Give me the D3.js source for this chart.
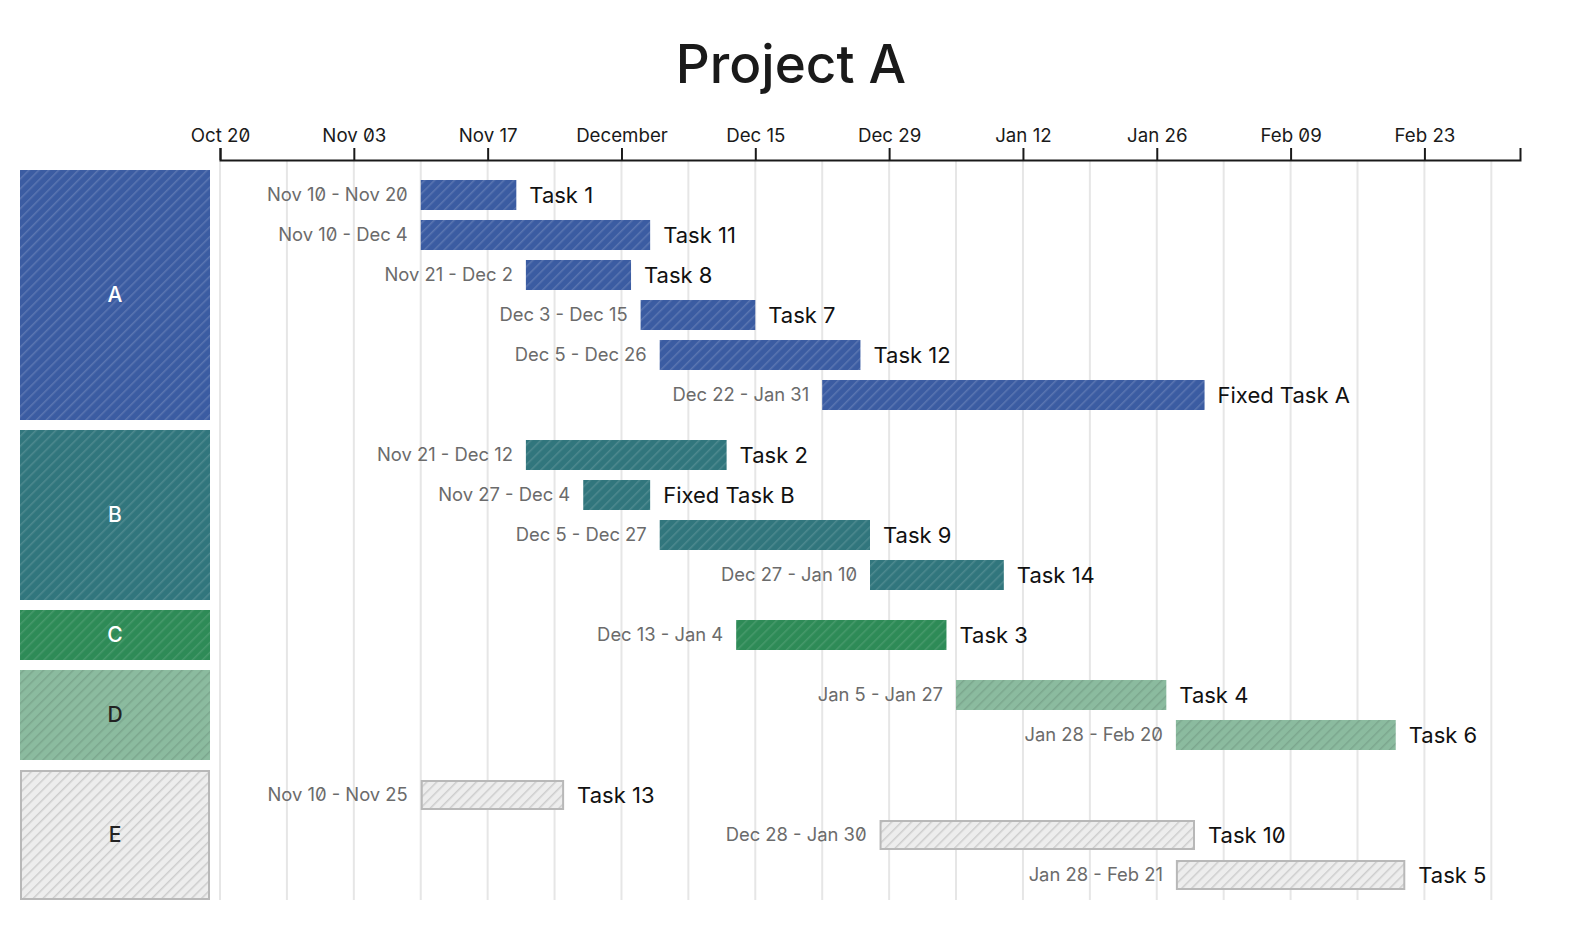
<!DOCTYPE html>
<html>
<head>
<meta charset="utf-8">
<script src="https://cdn.jsdelivr.net/npm/d3@7"></script>
<style>
  body { margin: 0; background: #fff; }
  svg { font-family: Inter, "Noto Sans", sans-serif; font-variant-numeric: slashed-zero; font-feature-settings: "zero" 1; }
</style>
</head>
<body>
<div class="gantt"></div>
<script>
const title = 'Project A'
const groups = ['A', 'B', 'C', 'D', 'E']
const taskNames = ['Task 1', 'Task 11', 'Task 8', 'Task 7', 'Task 12', 'Fixed Task A',
  'Task 2', 'Fixed Task B', 'Task 9', 'Task 14',
  'Task 3',
  'Task 4', 'Task 6',
  'Task 13', 'Task 10', 'Task 5']
const taskGroups = ['A', 'A', 'A', 'A', 'A', 'A', 'B', 'B', 'B', 'B', 'C', 'D', 'D', 'E', 'E', 'E']
const taskStarts = ['2024-11-10', '2024-11-10', '2024-11-21', '2024-12-03', '2024-12-05', '2024-12-22',
  '2024-11-21', '2024-11-27', '2024-12-05', '2024-12-27',
  '2024-12-13',
  '2025-01-05', '2025-01-28',
  '2024-11-10', '2024-12-28', '2025-01-28']
const taskEnds = ['2024-11-20', '2024-12-04', '2024-12-02', '2024-12-15', '2024-12-26', '2025-01-31',
  '2024-12-12', '2024-12-04', '2024-12-27', '2025-01-10',
  '2025-01-04',
  '2025-01-27', '2025-02-20',
  '2024-11-25', '2025-01-30', '2025-02-21']
const timeDomain = ['2024-10-20', '2025-03-05']

const groupFill = { A: '#3b5ca2', B: '#31767d', C: '#2e8b57', D: '#8bbb9f', E: '#ededed' }
const groupHatch = { A: 'rgba(255,255,255,0.16)', B: 'rgba(255,255,255,0.14)', C: 'rgba(255,255,255,0.12)', D: 'rgba(0,0,0,0.11)', E: '#cdcdcd' }
const groupText = { A: '#fff', B: '#fff', C: '#fff', D: '#222', E: '#222' }

const width = 1580
const height = 930
const parse = d3.utcParse('%Y-%m-%d')
const toLocal = s => { const d = parse(s); return new Date(d.getUTCFullYear(), d.getUTCMonth(), d.getUTCDate()) }

// rows, with half a slot between groups
const tasks = taskNames.map((name, i) => ({
  name,
  group: taskGroups[i],
  start: toLocal(taskStarts[i]),
  end: toLocal(taskEnds[i]),
}))
let slot = 0
groups.forEach(g => {
  tasks.filter(t => t.group === g).forEach(t => {
    t.slot = slot
    slot++
  })
  slot += 0.5
})
const lastSlot = d3.max(tasks, t => t.slot)

const x = d3.scaleTime()
  .domain(timeDomain.map(toLocal))
  .range([220, 1520])
const y = d3.scaleLinear()
  .domain([0, lastSlot])
  .range([195, 875])
const step = y(1) - y(0)
const barH = 30

const svg = d3.select('.gantt')
  .append('svg')
  .attr('width', width)
  .attr('height', height)

const defs = svg.append('defs')
groups.forEach(g => {
  const p = defs.append('pattern')
    .attr('id', `hatch-${g}`)
    .attr('patternUnits', 'userSpaceOnUse')
    .attr('width', 7)
    .attr('height', 7)
    .attr('patternTransform', 'rotate(45)')
  p.append('rect').attr('width', 7).attr('height', 7).attr('fill', groupFill[g])
  p.append('line')
    .attr('x1', 0.75).attr('y1', 0).attr('x2', 0.75).attr('y2', 7)
    .attr('stroke', groupHatch[g])
    .attr('stroke-width', 1.5)
})

svg.append('text')
  .attr('x', 791)
  .attr('y', 83)
  .attr('text-anchor', 'middle')
  .attr('font-size', 53)
  .attr('font-weight', 500)
  .attr('fill', '#1a1a1a')
  .text(title)

// weekly grid
const weeks = d3.timeWeek.range(x.domain()[0], x.domain()[1])
svg.append('g')
  .selectAll('line')
  .data(weeks)
  .join('line')
  .attr('x1', d => x(d))
  .attr('x2', d => x(d))
  .attr('y1', 160)
  .attr('y2', 900)
  .attr('stroke', '#e6e6e6')
  .attr('stroke-width', 2)

const axis = d3.axisTop(x)
  .tickValues(d3.timeWeek.range(x.domain()[0], x.domain()[1], 2))
  .tickSize(12)
  .tickSizeOuter(12)
  .tickPadding(6)

const ax = svg.append('g')
  .attr('transform', 'translate(0,160)')
  .call(axis)
ax.select('.domain').attr('stroke', '#1a1a1a').attr('stroke-width', 2)
ax.selectAll('.tick line').attr('stroke', '#1a1a1a').attr('stroke-width', 2)
ax.selectAll('.tick text')
  .attr('font-family', 'Inter, sans-serif')
  .attr('font-size', 18.7)
  .attr('fill', '#1a1a1a')

// group boxes
const groupBoxes = groups.map(g => {
  const rows = tasks.filter(t => t.group === g)
  return {
    g,
    y0: y(d3.min(rows, r => r.slot)) - step / 2 - 5,
    y1: y(d3.max(rows, r => r.slot)) + step / 2 + 5,
  }
})
const box = svg.append('g')
  .selectAll('g')
  .data(groupBoxes)
  .join('g')
box.append('rect')
  .attr('x', d => (d.g === 'E' ? 21 : 20))
  .attr('y', d => (d.g === 'E' ? d.y0 + 1 : d.y0))
  .attr('width', d => (d.g === 'E' ? 188 : 190))
  .attr('height', d => d.y1 - d.y0 - (d.g === 'E' ? 2 : 0))
  .attr('fill', d => `url(#hatch-${d.g})`)
  .attr('stroke', d => (d.g === 'E' ? '#b8b8b8' : 'none'))
  .attr('stroke-width', 2)
box.append('text')
  .attr('x', 115)
  .attr('y', d => (d.y0 + d.y1) / 2)
  .attr('dy', '0.35em')
  .attr('text-anchor', 'middle')
  .attr('font-size', 21)
  .attr('font-weight', 500)
  .attr('fill', d => groupText[d.g])
  .text(d => d.g)

// bars
const fmt = d3.timeFormat('%b %-d')
const isE = d => d.group === 'E'
const bar = svg.append('g')
  .selectAll('g')
  .data(tasks)
  .join('g')
bar.append('rect')
  .attr('x', d => x(d.start) + (isE(d) ? 1 : 0))
  .attr('y', d => y(d.slot) - barH / 2 + (isE(d) ? 1 : 0))
  .attr('width', d => x(d.end) - x(d.start) - (isE(d) ? 2 : 0))
  .attr('height', d => barH - (isE(d) ? 2 : 0))
  .attr('fill', d => `url(#hatch-${d.group})`)
  .attr('stroke', d => (isE(d) ? '#b8b8b8' : 'none'))
  .attr('stroke-width', 2)
bar.append('text')
  .attr('x', d => x(d.start) - 13)
  .attr('y', d => y(d.slot))
  .attr('dy', '0.35em')
  .attr('text-anchor', 'end')
  .attr('font-size', 18.4)
  .attr('fill', '#6b6b6b')
  .text(d => `${fmt(d.start)} - ${fmt(d.end)}`)
bar.append('text')
  .attr('x', d => x(d.end) + 13)
  .attr('y', d => y(d.slot))
  .attr('dy', '0.35em')
  .attr('font-size', 22)
  .attr('fill', '#111')
  .text(d => d.name)
</script>
</body>
</html>
